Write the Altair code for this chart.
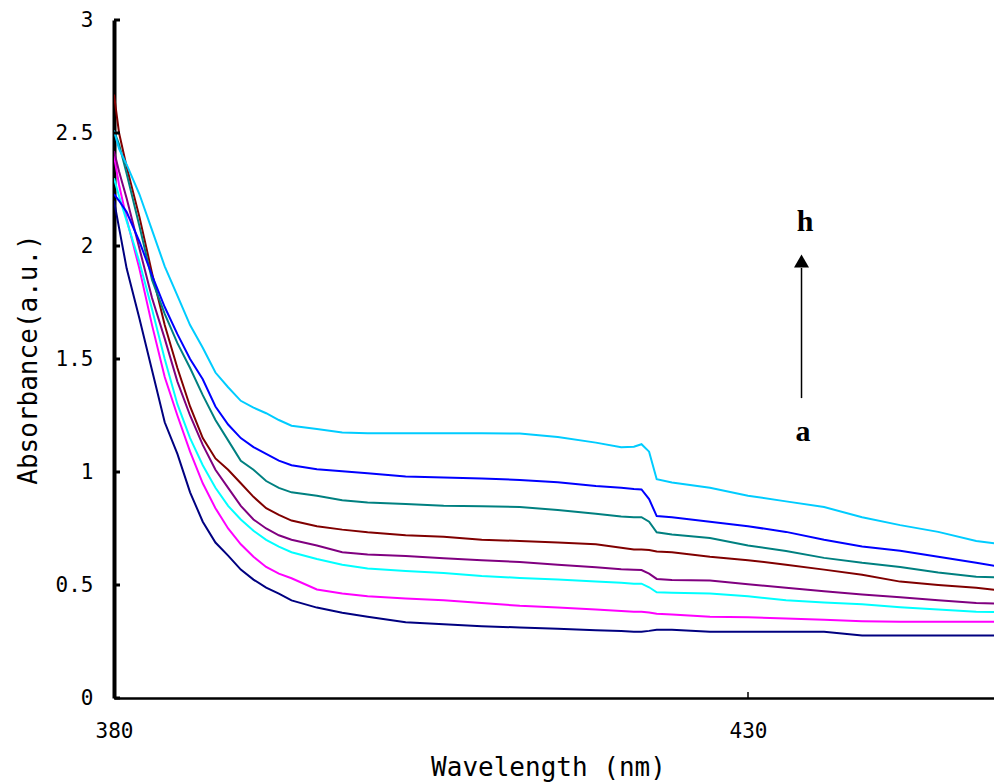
import altair as alt
import pandas as pd

# ---------------- data ----------------
wavelength = [380, 380.4, 381, 382, 383, 384, 385, 386, 387, 388, 389, 390, 391, 392,
              393, 394, 396, 398, 400, 403, 406, 409, 412, 415, 418, 420, 421, 421.6,
              422.2, 422.8, 424, 427, 430, 433, 436, 439, 442, 445, 448, 450]

abs_a = [2.20, 2.08, 1.90, 1.68, 1.45, 1.22, 1.08, 0.91, 0.78, 0.688, 0.63, 0.568, 0.524,
         0.488, 0.462, 0.432, 0.40, 0.377, 0.36, 0.335, 0.326, 0.318, 0.312, 0.306, 0.30,
         0.297, 0.293, 0.293, 0.297, 0.302, 0.302, 0.293, 0.293, 0.293, 0.293, 0.277,
         0.277, 0.277, 0.277, 0.277]
abs_b = [2.40, 2.27, 2.12, 1.90, 1.65, 1.42, 1.25, 1.09, 0.95, 0.84, 0.75, 0.68, 0.625,
         0.58, 0.55, 0.53, 0.48, 0.462, 0.45, 0.44, 0.433, 0.42, 0.408, 0.40, 0.392, 0.385,
         0.382, 0.382, 0.378, 0.373, 0.37, 0.36, 0.357, 0.352, 0.346, 0.34, 0.337, 0.337,
         0.337, 0.337]
abs_c = [2.30, 2.22, 2.11, 1.93, 1.72, 1.50, 1.30, 1.15, 1.03, 0.93, 0.85, 0.79, 0.74,
         0.70, 0.67, 0.645, 0.615, 0.59, 0.573, 0.562, 0.553, 0.54, 0.531, 0.524, 0.516,
         0.51, 0.506, 0.506, 0.49, 0.468, 0.466, 0.462, 0.45, 0.432, 0.423, 0.415, 0.402,
         0.392, 0.382, 0.38]
abs_d = [2.42, 2.33, 2.21, 1.99, 1.77, 1.59, 1.40, 1.25, 1.12, 1.01, 0.93, 0.85, 0.79,
         0.75, 0.72, 0.70, 0.675, 0.645, 0.635, 0.628, 0.618, 0.61, 0.602, 0.59, 0.578,
         0.57, 0.568, 0.566, 0.55, 0.527, 0.522, 0.52, 0.503, 0.488, 0.472, 0.458, 0.446,
         0.432, 0.42, 0.417]
abs_e = [2.67, 2.50, 2.35, 2.13, 1.88, 1.65, 1.46, 1.29, 1.15, 1.06, 1.01, 0.95, 0.89,
         0.84, 0.81, 0.785, 0.76, 0.745, 0.733, 0.72, 0.714, 0.70, 0.695, 0.688, 0.68,
         0.665, 0.657, 0.657, 0.655, 0.648, 0.645, 0.625, 0.61, 0.59, 0.568, 0.545, 0.515,
         0.50, 0.488, 0.475]
abs_f = [2.51, 2.45, 2.32, 2.09, 1.85, 1.70, 1.57, 1.46, 1.34, 1.23, 1.14, 1.05, 1.01,
         0.96, 0.93, 0.91, 0.895, 0.875, 0.865, 0.858, 0.851, 0.848, 0.845, 0.832, 0.815,
         0.803, 0.80, 0.80, 0.78, 0.733, 0.723, 0.708, 0.675, 0.65, 0.62, 0.598, 0.58,
         0.555, 0.537, 0.533]
abs_g = [2.23, 2.20, 2.15, 2.02, 1.87, 1.73, 1.61, 1.50, 1.41, 1.29, 1.21, 1.15, 1.11,
         1.08, 1.05, 1.03, 1.012, 1.003, 0.994, 0.98, 0.976, 0.971, 0.965, 0.955, 0.938,
         0.93, 0.925, 0.923, 0.88, 0.805, 0.80, 0.78, 0.76, 0.735, 0.70, 0.67, 0.652,
         0.625, 0.598, 0.58]
abs_h = [2.51, 2.43, 2.36, 2.23, 2.07, 1.91, 1.78, 1.65, 1.55, 1.44, 1.375, 1.315, 1.285,
         1.26, 1.23, 1.205, 1.19, 1.175, 1.172, 1.172, 1.172, 1.172, 1.17, 1.155, 1.13,
         1.11, 1.112, 1.123, 1.09, 0.968, 0.954, 0.93, 0.895, 0.87, 0.845, 0.80, 0.765,
         0.735, 0.695, 0.68]

series_names = ["a", "b", "c", "d", "e", "f", "g", "h"]
series_values = [abs_a, abs_b, abs_c, abs_d, abs_e, abs_f, abs_g, abs_h]
series_colors = ["#000080", "#FF00FF", "#00FFFF", "#800080",
                 "#800000", "#008080", "#0000FF", "#00CCFF"]

x_ticks = [380, 430]
y_ticks = [0, 0.5, 1, 1.5, 2, 2.5, 3]

# arrow annotation "a -> h"
arrow_x = [434.22]
arrow_y_start = [1.327]
arrow_y_end = [1.903]
arrow_head_y = [1.934]
note_text = ["a", "h"]
note_x = [434.34, 434.5]
note_y = [1.177, 2.106]

# ---------------- build tables ----------------
rows = []
for name, vals in zip(series_names, series_values):
    for w, v in zip(wavelength, vals):
        rows.append({"series": name, "wavelength": w, "absorbance": v})
df = pd.DataFrame(rows)

W, H = 880, 678
X_MAX = 380 + W / 12.68
xscale = alt.Scale(domain=[380, X_MAX], nice=False, zero=False)
yscale = alt.Scale(domain=[0, 3], nice=False, zero=False)
MONO = "DejaVu Sans Mono"

xaxis = alt.Axis(values=x_ticks, ticks=False, tickSize=0, grid=False,
                 domainColor="black", domainWidth=2.5,
                 labelFont=MONO, labelFontSize=21, labelColor="black",
                 labelPadding=22, labelFlush=False,
                 title="Wavelength (nm)", titleFont=MONO, titleFontSize=26,
                 titleFontWeight="normal", titleColor="black",
                 titleX=434, titleY=77, titleBaseline="alphabetic")
yaxis = alt.Axis(values=y_ticks, ticks=False, tickSize=0, grid=False,
                 format="~g",
                 domainColor="black", domainWidth=4,
                 labelFont=MONO, labelFontSize=21, labelColor="black",
                 labelPadding=21, labelFlush=False,
                 title="Absorbance(a.u.)", titleFont=MONO, titleFontSize=26,
                 titleFontWeight="normal", titleColor="black",
                 titleX=-78, titleY=H / 2, titleBaseline="alphabetic",
                 titleAngle=270, titleAlign="center")


def X(field):
    return alt.X(field, scale=xscale, axis=xaxis, title="Wavelength (nm)")


def Y(field):
    return alt.Y(field, scale=yscale, axis=yaxis, title="Absorbance(a.u.)")


lines = alt.Chart(df).mark_line(strokeWidth=2, clip=True).encode(
    x=X("wavelength:Q"),
    y=Y("absorbance:Q"),
    color=alt.Color("series:N", scale=alt.Scale(domain=series_names, range=series_colors),
                    legend=None),
    order=alt.Order("wavelength:Q"),
)

ytick_df = pd.DataFrame({"absorbance": y_ticks})
yt = alt.Chart(ytick_df).mark_rule(color="black", strokeWidth=3).encode(
    y=Y("absorbance:Q"),
    x=alt.value(0), x2=alt.value(6),
)

xtick_df = pd.DataFrame({"wavelength": x_ticks})
xt = alt.Chart(xtick_df).mark_rule(color="black", strokeWidth=1.5).encode(
    x=X("wavelength:Q"),
    y=alt.value(H), y2=alt.value(H - 6),
)

arrow_df = pd.DataFrame({"wavelength": arrow_x, "absorbance": arrow_y_start,
                         "y1": arrow_y_end, "hy": arrow_head_y})
arrow_line = alt.Chart(arrow_df).mark_rule(color="black", strokeWidth=1.5).encode(
    x=X("wavelength:Q"),
    y=Y("absorbance:Q"),
    y2="y1:Q",
)
arrow_head = alt.Chart(arrow_df).mark_point(
    shape="triangle-up", filled=True, color="black", size=225, opacity=1
).encode(
    x=X("wavelength:Q"),
    y=Y("hy:Q"),
)

note_df = pd.DataFrame({"t": note_text, "wavelength": note_x, "absorbance": note_y})
notes = alt.Chart(note_df).mark_text(
    font="Liberation Serif", fontSize=30, fontWeight="bold", color="black",
    baseline="middle", align="center"
).encode(
    x=X("wavelength:Q"),
    y=Y("absorbance:Q"),
    text="t:N",
)

chart = alt.layer(lines, yt, xt, arrow_line, arrow_head, notes).properties(
    width=W, height=H,
    autosize=alt.AutoSizeParams(type="none"),
    padding={"left": 114, "top": 20, "right": 0, "bottom": 85},
    background="white",
).configure_view(stroke=None)

chart.save("out.html", embed_options={"renderer": "svg", "actions": False})
